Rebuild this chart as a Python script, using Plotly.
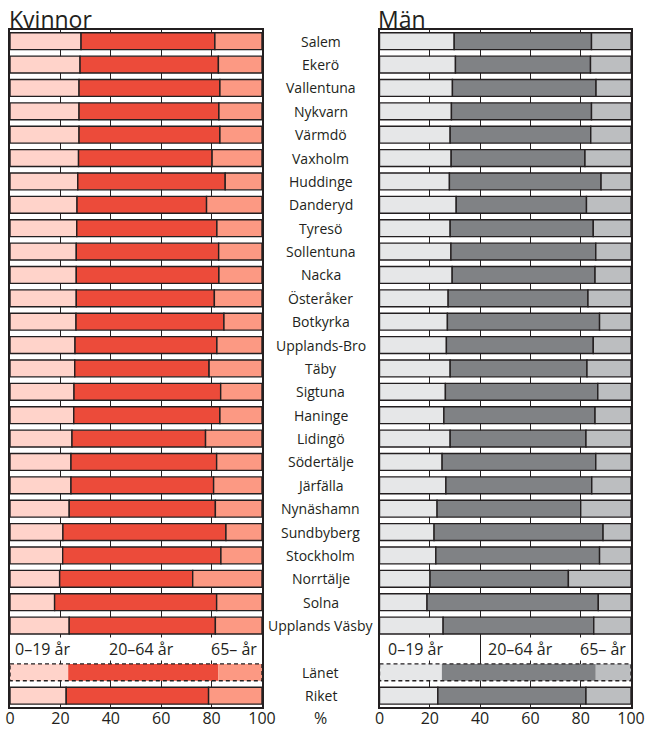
import plotly.graph_objects as go

# ---------------- data ----------------
areas = ["Salem", "Ekerö", "Vallentuna", "Nykvarn", "Värmdö", "Vaxholm", "Huddinge",
         "Danderyd", "Tyresö", "Sollentuna", "Nacka", "Österåker", "Botkyrka",
         "Upplands-Bro", "Täby", "Sigtuna", "Haninge", "Lidingö", "Södertälje",
         "Järfälla", "Nynäshamn", "Sundbyberg", "Stockholm", "Norrtälje", "Solna",
         "Upplands Väsby"]
totals = ["Länet", "Riket"]

women_0_19 = [28.2, 27.8, 27.4, 27.4, 27.4, 27.2, 26.9, 26.6, 26.5, 26.3, 26.3, 26.3, 26.2,
              25.8, 25.7, 25.4, 25.3, 24.6, 24.2, 24.2, 23.5, 21.0, 20.9, 19.7, 17.7, 23.5,
              23.1, 22.3]
women_20_64 = [53.1, 54.9, 55.9, 55.5, 55.9, 53.0, 58.5, 51.4, 55.6, 56.5, 56.6, 54.8, 58.7,
               56.3, 53.3, 58.2, 58.0, 53.0, 57.8, 56.6, 58.0, 64.7, 62.8, 52.8, 64.3, 58.0,
               59.6, 56.5]
women_65 = [18.7, 17.3, 16.7, 17.1, 16.7, 19.8, 14.6, 22.0, 17.9, 17.2, 17.1, 18.9, 15.1,
            17.9, 21.0, 16.4, 16.7, 22.4, 18.0, 19.2, 18.5, 14.3, 16.3, 27.5, 18.0, 18.5,
            17.3, 21.2]

men_0_19 = [29.7, 30.2, 29.0, 28.6, 28.1, 28.5, 27.8, 30.5, 28.1, 28.4, 28.9, 27.3, 27.0,
            26.6, 28.1, 26.2, 25.6, 28.1, 24.9, 26.4, 22.9, 21.7, 22.4, 20.1, 18.9, 25.3,
            24.8, 23.2]
men_20_64 = [54.6, 53.7, 57.1, 55.7, 55.9, 53.2, 60.3, 51.8, 56.9, 57.6, 56.8, 55.6, 60.5,
             58.4, 54.4, 60.6, 60.1, 54.0, 61.1, 58.0, 57.1, 67.2, 65.1, 55.0, 68.1, 59.9,
             61.2, 58.9]
men_65 = [15.7, 16.1, 13.9, 15.7, 16.0, 18.3, 11.9, 17.7, 15.0, 14.0, 14.3, 17.1, 12.5,
          15.0, 17.5, 13.2, 14.3, 17.9, 14.0, 15.6, 20.0, 11.1, 12.5, 24.9, 13.0, 14.8,
          14.0, 17.9]

age_groups = ["0–19 år", "20–64 år", "65– år"]
panel_titles = ["Kvinnor", "Män"]
x_ticks = [0, 20, 40, 60, 80, 100]
unit_label = "%"

# ---------------- layout helpers ----------------
W, H = 652, 731
ink = "#231F20"
font = "Open Sans, Noto Sans, sans-serif"

labels = areas + totals
# row positions: municipalities, one empty row (age legend), then totals
rows = list(range(len(areas))) + [len(areas) + 1 + i for i in range(len(totals))]
legend_row = len(areas)
n_slots = len(areas) + 1 + len(totals)
lan_idx = labels.index("Länet")

women_colors = ["#FFD3CA", "#EC4B3A", "#FC9983"]
men_colors = ["#E6E7E8", "#808285", "#BCBEC0"]

line_w = [0 if i == lan_idx else 1.4 for i in range(len(labels))]

fig = go.Figure()

def add_panel(series, colors, xa, ya):
    base = [0.0] * len(labels)
    for s, c, name in zip(series, colors, age_groups):
        fig.add_trace(go.Bar(
            x=s, y=rows, base=base[:], orientation="h", width=0.72,
            marker=dict(color=c, line=dict(color=ink, width=line_w)),
            name=name, showlegend=False, xaxis=xa, yaxis=ya,
            hovertemplate="%{y}: %{x:.1f}%<extra>" + name + "</extra>",
        ))
        base = [b + v for b, v in zip(base, s)]
    return base

tot_w = add_panel([women_0_19, women_20_64, women_65], women_colors, "x", "y")
tot_m = add_panel([men_0_19, men_20_64, men_65], men_colors, "x2", "y2")

# frame / axes
top_px, bot_px = 29.5, 707.4
ydom = [1 - bot_px / H, 1 - top_px / H]
dom_w = [10 / W, 262 / W]
dom_m = [379.5 / W, 631 / W]

xcommon = dict(range=[0, 100], tickvals=x_ticks, showgrid=True, gridcolor=ink, gridwidth=1,
               zeroline=False, showline=True, linecolor=ink, linewidth=1.5, mirror=True,
               ticks="", tickfont=dict(family=font, size=16, color=ink), fixedrange=True,
               automargin=False, ticklabelstandoff=-4)
ycommon = dict(range=[n_slots - 0.5, -0.5], showticklabels=False, showgrid=False,
               zeroline=False, showline=True, linecolor=ink, linewidth=1.5, mirror=True,
               ticks="", fixedrange=True, automargin=False)

fig.update_layout(
    width=W, height=H, autosize=False, margin=dict(l=0, r=0, t=0, b=0, pad=0),
    paper_bgcolor="white", plot_bgcolor="white", barmode="overlay", showlegend=False,
    xaxis=dict(domain=dom_w, anchor="y", **xcommon),
    yaxis=dict(domain=ydom, anchor="x", **ycommon),
    xaxis2=dict(domain=dom_m, anchor="y2", **xcommon),
    yaxis2=dict(domain=ydom, anchor="x2", **ycommon),
    font=dict(family=font, color=ink),
)

# dashed outline for Länet
lan_row = rows[lan_idx]
for xr, yr, tot in (("x", "y", tot_w), ("x2", "y2", tot_m)):
    fig.add_shape(type="rect", xref=xr, yref=yr, x0=0, x1=tot[lan_idx],
                  y0=lan_row - 0.36, y1=lan_row + 0.36,
                  line=dict(color=ink, width=1.4, dash="4px,3px"), layer="above")

# category labels in the middle
mid_x = (262 + 379.5) / 2 / W
for lab, r in zip(labels, rows):
    fig.add_annotation(text=lab, x=mid_x, xref="paper", y=r, yref="y",
                       showarrow=False, font=dict(size=14, color=ink, family=font),
                       xanchor="center", yanchor="middle")

# age group legends inside the empty row
legend_pos = [(1.5, "left"), (52, "center"), (98.5, "right")]
legend_pos_m = [(3, "left"), (56, "center"), (98.5, "right")]
for xr, yr, pos in (("x", "y", legend_pos), ("x2", "y2", legend_pos_m)):
    for txt, (px, anc) in zip(age_groups, pos):
        fig.add_annotation(text=txt, x=px, xref=xr, y=legend_row, yref=yr,
                           showarrow=False, xanchor=anc, yanchor="middle",
                           bgcolor="white", borderpad=0,
                           font=dict(size=16, color=ink, family=font))

# panel titles
for t, xp in zip(panel_titles, (7 / W, 376 / W)):
    fig.add_annotation(text=t, x=xp, xref="paper", y=1 - 1 / H, yref="paper",
                       showarrow=False, xanchor="left", yanchor="top",
                       font=dict(size=23, color=ink, family=font))

# unit label
fig.add_annotation(text=unit_label, x=mid_x, xref="paper", y=1 - 718 / H, yref="paper",
                   showarrow=False, xanchor="center", yanchor="middle",
                   font=dict(size=16, color=ink, family=font))

fig.write_html(
    "out.html", config={"displayModeBar": False, "responsive": False},
    post_script=("document.body.style.margin='0';"
                 "document.body.style.overflow='hidden';"
                 "document.documentElement.style.overflow='hidden';"))
